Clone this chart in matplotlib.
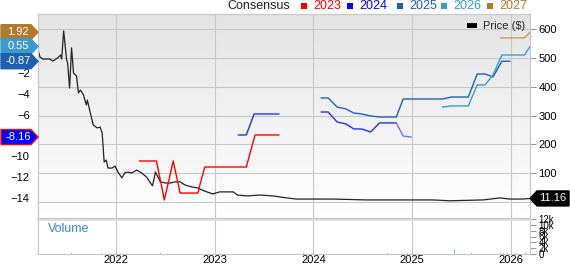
import numpy as np
import matplotlib
matplotlib.use("Agg")
import matplotlib.pyplot as plt
from matplotlib.patches import Polygon, Rectangle

plt.rcParams['font.family'] = ['Liberation Sans', 'DejaVu Sans']

# price ($), right axis
price_t = [2021.21, 2021.23, 2021.26, 2021.33, 2021.36, 2021.41, 2021.44, 2021.45, 2021.47,
           2021.50, 2021.51, 2021.53, 2021.55, 2021.57, 2021.60, 2021.62, 2021.64, 2021.67,
           2021.70, 2021.71, 2021.74, 2021.77, 2021.81, 2021.84, 2021.86, 2021.87, 2021.88,
           2021.90, 2021.92, 2021.96, 2021.99, 2022.02, 2022.06, 2022.09, 2022.12, 2022.16,
           2022.21, 2022.26, 2022.31, 2022.37, 2022.40, 2022.45, 2022.50, 2022.55, 2022.60,
           2022.65, 2022.70, 2022.77, 2022.83, 2022.85, 2022.92, 2022.98, 2023.05, 2023.13,
           2023.19, 2023.23, 2023.33, 2023.46, 2023.59, 2023.73, 2023.83, 2024.00, 2024.20,
           2024.54, 2025.01, 2025.21, 2025.38, 2025.72, 2025.89, 2025.99, 2026.12, 2026.195]
price = [529, 504, 497, 497, 490, 501, 511, 497, 595,
         494, 483, 396, 536, 448, 438, 379, 389, 372,
         337, 354, 309, 267, 257, 260, 239, 191, 138,
         145, 117, 117, 124, 103, 83, 100, 103, 100,
         110, 100, 86, 55, 103, 69, 65, 65, 69,
         69, 58, 51, 48, 44, 34, 27, 34, 34,
         34, 23, 20, 23, 20, 13, 9, 9, 9,
         6, 6, 6, 3, 6, 13, 9, 9, 11.16]

# consensus EPS, left axis
c2023_t = [2022.24, 2022.41, 2022.49, 2022.58, 2022.65, 2022.83, 2022.85, 2022.90, 2023.32, 2023.41, 2023.65]
c2023 = [-10.46, -10.46, -14.2, -10.46, -13.54, -13.54, -12.77, -11.04, -11.04, -7.96, -7.96]

c2024_t = [2023.24, 2023.32, 2023.40, 2023.65, 2023.66,
           2024.08, 2024.15, 2024.24, 2024.33, 2024.41, 2024.49, 2024.58, 2024.67, 2024.84, 2024.91, 2024.99]
c2024 = [-7.96, -7.96, -5.94, -5.94, np.nan,
         -5.75, -5.75, -6.71, -6.9, -7.38, -7.38, -7.67, -6.8, -6.8, -8.06, -8.16]

c2025_t = [2024.08, 2024.15, 2024.24, 2024.33, 2024.41, 2024.49, 2024.58, 2024.67, 2024.84, 2024.91,
           2025.31, 2025.40, 2025.57, 2025.66, 2025.74, 2025.82, 2025.91, 2025.99]
c2025 = [-4.4, -4.4, -5.27, -5.46, -5.85, -5.94, -6.13, -6.23, -6.23, -4.5,
         -4.5, -4.31, -4.31, -2.1, -2.1, -2.38, -0.87, -0.87]

c2026_t = [2025.31, 2025.40, 2025.57, 2025.66, 2025.74, 2025.82, 2025.91, 2026.14, 2026.195]
c2026 = [-5.27, -5.17, -5.17, -3.15, -3.15, -2.19, -0.27, -0.27, 0.55]

c2027_t = [2025.90, 2026.14, 2026.195]
c2027 = [1.37, 1.37, 1.92]

# volume (thousands)
vol_t = [2021.30, 2021.55, 2021.85, 2022.10, 2022.45, 2022.80, 2023.20, 2023.55, 2023.90, 2024.00,
         2024.35, 2024.75, 2024.95, 2025.20, 2025.43, 2025.60, 2025.86, 2025.88, 2025.90, 2025.93,
         2025.97, 2026.05, 2026.15]
vol = [0.15, 0.2, 0.3, 0.15, 0.2, 0.2, 0.15, 0.2, 0.3, 0.4,
       0.2, 0.3, 0.2, 0.15, 1.7, 0.2, 11.0, 0.6, 0.5, 0.5,
       0.3, 0.2, 0.3]

years = [2022, 2023, 2024, 2025, 2026]
tag_vals = [1.92, 0.55, -0.87, -8.16]
tag_cols = ['#b07a30', '#3a9bcc', '#2060b0', '#0000ff']
leg_names = ['2023', '2024', '2025', '2026', '2027']
leg_cols = ['#ff0000', '#0000ff', '#2060b0', '#3a9bcc', '#b07a30']

W, H = 570, 264
fig = plt.figure(figsize=(W / 100, H / 100), dpi=100)

def fx(px):
    return px / W

def fy(py):
    return 1 - py / H

ax = fig.add_axes([fx(38), fy(218), fx(492), (218 - 14) / H])
vax = fig.add_axes([fx(38), fy(254), fx(492), (254 - 219) / H], sharex=ax)
ax2 = ax.twinx()

xmin, xmax = 2021.21, 2026.195
ax.set_xlim(xmin, xmax)
ax.set_ylim(-57, 654)
ax2.set_ylim(-15.94, 3.67)

# background gradient
grad = np.linspace(0, 1, 256).reshape(-1, 1)
ax.imshow(grad, extent=[0, 1, 0, 1], transform=ax.transAxes, aspect='auto',
          cmap=matplotlib.colors.LinearSegmentedColormap.from_list('g', ['#ffffff', '#e4e4e4']),
          zorder=0, origin='lower')

ax.yaxis.tick_right()
ax.set_yticks([0, 100, 200, 300, 400, 500, 600])
ax.set_yticklabels(['', '100', '200', '300', '400', '500', '600'])
ax.grid(True, color='#c8c8c8', lw=0.8)
ax.set_axisbelow(True)
ax.tick_params(axis='y', right=True, left=False, length=4, color='#999999', labelsize=8, pad=2)
ax.tick_params(axis='x', length=0, labelbottom=False)
ax.set_xticks(years)

ax.plot(price_t, price, color='#222222', lw=0.9, zorder=3)

ax2.yaxis.tick_left()
ax2.set_yticks([-2, -4, -6, -10, -12, -14])
ax2.tick_params(axis='y', length=0, labelsize=8, pad=6)
ax2.plot(c2023_t, c2023, color='#ff0000', lw=1)
ax2.plot(c2024_t[:14], c2024[:14], color='#2a2aff', lw=1)
ax2.plot(c2024_t[13:], c2024[13:], color='#7070ff', lw=1)
ax2.plot(c2025_t, c2025, color='#2060b0', lw=1)
ax2.plot(c2026_t, c2026, color='#3a9bcc', lw=1)
ax2.plot(c2027_t, c2027, color='#c89a5a', lw=1)

for a in (ax, ax2):
    for s in a.spines.values():
        s.set_color('#c8c8c8')

# volume panel
vax.bar(vol_t, vol, width=0.008, color='#8fbfe0')
vax.set_ylim(0, 12)
vax.set_yticks([0, 2, 4, 6, 8, 10, 12])
vax.set_yticklabels(['0', '2k', '4k', '6k', '8k', '10k', '12k'])
vax.yaxis.tick_right()
vax.tick_params(axis='y', length=4, color='#999999', labelsize=7, pad=2)
vax.set_xticks(years)
vax.set_xticklabels([str(y) for y in years])
vax.tick_params(axis='x', length=0, labelsize=8, pad=1)
vax.grid(True, axis='x', color='#c8c8c8', lw=0.8)
vax.set_axisbelow(True)
for k, s in vax.spines.items():
    s.set_color('#c8c8c8')
vax.spines['top'].set_color('#dddddd')
vax.spines['top'].set_linewidth(2)
vax.text(0.02, 0.72, 'Volume', transform=vax.transAxes, color='#3388cc', fontsize=9, va='center')

# left tags
fig.canvas.draw()
to_fig = fig.transFigure.inverted()
for v, c in zip(tag_vals, tag_cols):
    yd = to_fig.transform(ax2.transData.transform((xmin, v)))[1]
    h = 7.5 / H
    pts = [(fx(1), yd - h), (fx(31), yd - h), (fx(38), yd), (fx(31), yd + h), (fx(1), yd + h)]
    ec = '#ff0000' if v == -8.16 else c
    fig.patches.append(Polygon(pts, closed=True, transform=fig.transFigure, fc=c, ec=ec, lw=1))
    fig.text(fx(18), yd, f'{v:.2f}', color='white', fontsize=8, ha='center', va='center')

# right price tag
yd = to_fig.transform(ax.transData.transform((xmax, price[-1])))[1]
h = 7.5 / H
pts = [(fx(530), yd), (fx(537), yd + h), (fx(569), yd + h), (fx(569), yd - h), (fx(537), yd - h)]
fig.patches.append(Polygon(pts, closed=True, transform=fig.transFigure, fc='black', ec='black'))
fig.text(fx(553), yd, f'{price[-1]:.2f}', color='white', fontsize=8, ha='center', va='center')

# top legend
fig.text(fx(227), fy(6), 'Consensus', fontsize=9, va='center', color='#222222')
leg_x = [301, 347, 397, 441, 487]
for x0, name, c in zip(leg_x, leg_names, leg_cols):
    fig.patches.append(Rectangle((fx(x0), fy(9)), fx(6), 6 / H, transform=fig.transFigure, fc=c, ec='none'))
    fig.text(fx(x0 + 12), fy(6), name, fontsize=9, va='center', color=c)

# price legend
fig.patches.append(Rectangle((fx(467), fy(28)), fx(10), 5 / H, transform=fig.transFigure, fc='black', ec='none'))
fig.text(fx(483), fy(26), 'Price ($)', fontsize=8, va='center', color='#222222')

fig.savefig('out.png', dpi=100)
